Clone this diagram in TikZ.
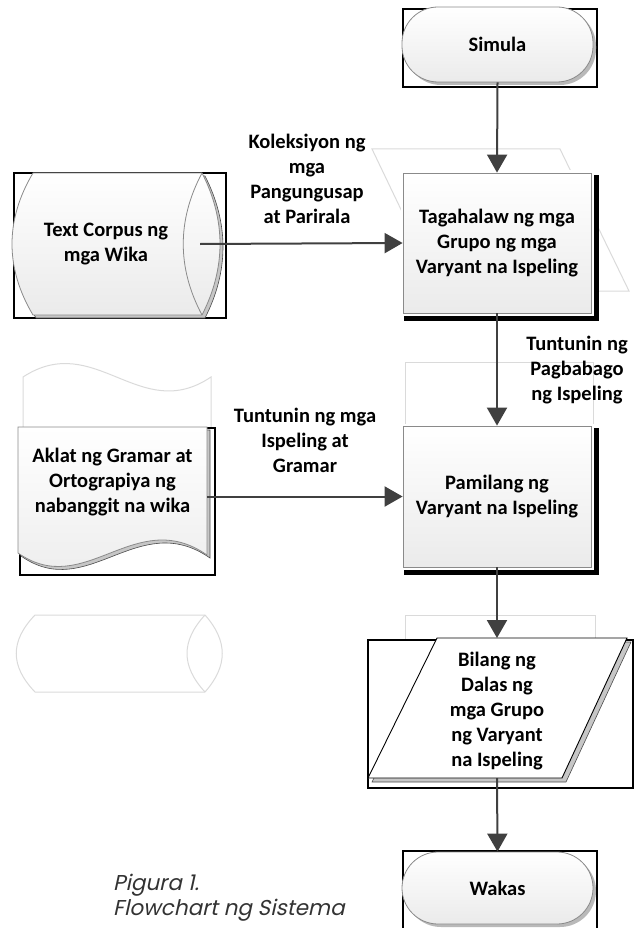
\documentclass[tikz,border=0pt]{standalone}
\usepackage{fontspec}
\setmainfont{Carlito}
\newfontfamily\capfont{Poppins}[FakeSlant=0.22]
\usetikzlibrary{arrows.meta,shadows,calc}
\definecolor{arrowc}{HTML}{404040}
\definecolor{ghost}{HTML}{DADADA}
\definecolor{edgec}{HTML}{8A8A8A}
\definecolor{capc}{HTML}{333333}
\pgfdeclarelayer{ghostl}
\pgfdeclarelayer{bgl}
\pgfsetlayers{ghostl,bgl,main}
\begin{document}
\begin{tikzpicture}[x=1pt,y=-1pt,
  font=\bfseries\fontsize{20.5}{25}\selectfont,
  ghostline/.style={draw=ghost, line width=1pt},
  frame/.style={draw=black, line width=1.3pt},
  shapefill/.style={top color=white, bottom color=gray!16, draw=edgec, line width=0.8pt},
  shadowfill/.style={fill=gray!45, draw=gray!60!black, line width=0.6pt},
  term/.style={rectangle, rounded corners=36pt, minimum width=191pt, minimum height=75pt,
    inner sep=0pt, shapefill, drop shadow={shadow xshift=3pt, shadow yshift=-3pt, fill=gray!55, opacity=1}},
  proc/.style={rectangle, minimum width=188pt, minimum height=140pt, align=center,
    inner sep=0pt, shapefill, preaction={draw=white, line width=5pt}},
  lbl/.style={align=center, inner sep=0pt},
  arr/.style={draw=arrowc, line width=2pt, -{Triangle[width=20pt,length=18pt]}}]
\useasboundingbox (0,0) rectangle (634,928);

% ---------- ghost shapes ----------
\begin{pgfonlayer}{ghostl}
\draw[ghostline] (372,149) -- (560,149) -- (629,291) -- (440,291) -- cycle;
\draw[ghostline] (23,427) -- (23,377) .. controls (95,330) and (140,425) .. (211,377) -- (211,427);
\draw[ghostline] (405,426) -- (405,362) -- (593,362) -- (593,426);
\draw[ghostline] (405,640) -- (405,615) -- (595,615) -- (595,640);
\draw[ghostline] (35,615) -- (205,615) .. controls (228,641) and (228,666) .. (205,692) -- (35,692)
  .. controls (10,666) and (10,641) .. (35,615) -- cycle;
\draw[ghostline] (205,615) .. controls (181,641) and (181,666) .. (205,692);
\end{pgfonlayer}

% ---------- main nodes ----------
\node[term] (simula) at (497.5,44.5) {Simula};
\node[proc] (tag) at (497,243) {Tagahalaw ng mga\\Grupo ng mga\\Varyant na Ispeling};
\node[proc, minimum height=141pt] (pam) at (497,496.5) {Pamilang ng\\Varyant na Ispeling};
\node[term, minimum height=72pt] (wakas) at (497.5,888) {Wakas};

\begin{pgfonlayer}{bgl}
\draw[frame] (403,9) rectangle (597,87);
\draw[frame] (403,851) rectangle (597,940);
\fill[black] ($(tag.north west)+(1,2)$) rectangle ($(tag.south east)+(8,8)$);
\fill[black] ($(pam.north west)+(1,2)$) rectangle ($(pam.south east)+(8,8)$);
% text corpus frame + shadow
\draw[frame] (14,173) rectangle (226,318);
\path[shadowfill] (36,176) -- (205,176) .. controls (229,223) and (229,271) .. (205,318) -- (36,318)
  .. controls (8,271) and (8,223) .. (36,176) -- cycle;
% aklat frame + shadow
\draw[frame] (20,428) rectangle (215,575);
\path[shadowfill] (21,430) -- (210,430) -- (210,558) .. controls (138,508) and (88,603) .. (21,556) -- cycle;
% output frame + shadow
\draw[frame] (368,640) rectangle (633,788);
\path[shadowfill] (441,642) -- (631,642) -- (566,782) -- (372,782) -- cycle;
\end{pgfonlayer}

% text corpus (drum)
\path[shapefill] (33,173) -- (202,173) .. controls (226,220) and (226,268) .. (202,315) -- (33,315)
  .. controls (5,268) and (5,220) .. (33,173) -- cycle;
\draw[edgec, line width=0.8pt] (202,173) .. controls (177,220) and (177,268) .. (202,315);
\node[lbl, minimum width=188pt] (corpus) at (106,244) {Text Corpus ng\\mga Wika};

% aklat (document)
\path[shapefill] (18,427) -- (207,427) -- (207,555) .. controls (135,505) and (85,600) .. (18,553) -- cycle;
\node[lbl, minimum width=189pt] (aklat) at (112.5,482) {Aklat ng Gramar at\\Ortograpiya ng\\nabanggit na wika};

% output (parallelogram)
\path[fill=white, draw=black, line width=0.9pt] (437,638) -- (627,638) -- (562,778) -- (368,778) -- cycle;
\node[lbl] (outp) at (497,711) {Bilang ng\\Dalas ng\\mga Grupo\\ng Varyant\\na Ispeling};
\coordinate (ptop) at (497,638);
\coordinate (pbot) at (497,778);

% labels
\node[lbl] (lab1) at (307,178.5) {Koleksiyon ng\\mga\\Pangungusap\\at Parirala};
\node[lbl] (lab2) at (577,370) {Tuntunin ng\\Pagbabago\\ng Ispeling};
\node[lbl] (lab3) at (305,440.5) {Tuntunin ng mga\\Ispeling at\\Gramar};

% connectors
\draw[arr] (simula.south) -- (tag.north);
\draw[arr] (corpus.east) -- (tag.west);
\draw[arr] (tag.south) -- (pam.north);
\draw[arr] (aklat.east |- pam.west) -- (pam.west);
\draw[arr] (pam.south) -- (ptop);
\draw[arr] (pbot) -- (wakas.north);

% caption
\node[anchor=north west, align=left, inner sep=0pt, text=capc,
  font=\capfont\fontsize{21.5}{25}\selectfont] (cap) at (113,874) {Pigura 1.\\Flowchart ng Sistema};
\end{tikzpicture}
\end{document}
